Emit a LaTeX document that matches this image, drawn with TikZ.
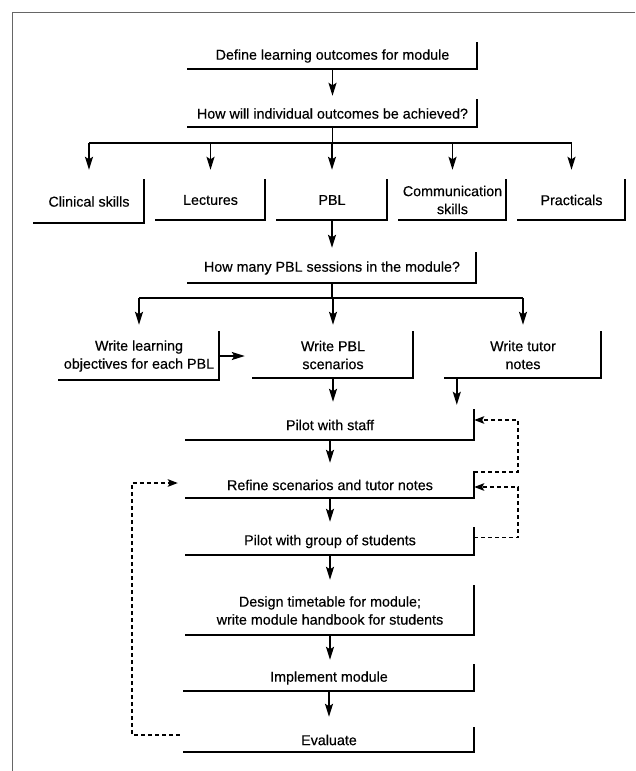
\documentclass[tikz,border=0pt]{standalone}
\usepackage{fontspec}
\setmainfont[FakeBold=0.4]{Liberation Sans}
\usetikzlibrary{arrows.meta}
\begin{document}
\begin{tikzpicture}[x=1pt,y=-1pt,
  box/.style={inner sep=0pt, align=center, font=\fontsize{14.3}{18}\selectfont},
  L/.style={line width=1.6pt, line cap=rect},
  ln/.style={line width=1.6pt},
  arr/.style={line width=1.6pt, -{Stealth[length=13pt,width=8pt,inset=2.5pt]}},
  fb/.style={line width=1.5pt, dash pattern=on 4pt off 3pt, -{Stealth[length=10pt,width=7.5pt,inset=2pt]}},
  frame/.style={line width=0.8pt, black!60}]
\useasboundingbox (0,0) rectangle (635,771);
\draw[frame] (635,12) -- (12,12) -- (12,771);

\node[box, minimum width=289pt, minimum height=26pt] (def) at (332.5,56) {Define learning outcomes for module};
\node[box, minimum width=289pt, minimum height=27pt] (how) at (332.5,113.5) {How will individual outcomes be achieved?};
\node[box, minimum width=110pt, minimum height=43pt] (clin) at (89,201.5) {Clinical skills};
\node[box, minimum width=109pt, minimum height=40pt] (lect) at (210.5,200) {Lectures};
\node[box, minimum width=110pt, minimum height=40pt] (pbl) at (332,200) {PBL};
\node[box, minimum width=107pt, minimum height=40pt] (comm) at (452.5,200) {Communication\\skills};
\node[box, minimum width=107pt, minimum height=40pt] (prac) at (571.5,200) {Practicals};
\node[box, minimum width=288pt, minimum height=30pt] (pbls) at (332,268) {How many PBL sessions in the module?};
\node[box, minimum width=160pt, minimum height=48pt] (obj) at (139,356) {Write learning\\objectives for each PBL};
\node[box, minimum width=160pt, minimum height=46pt] (scen) at (333,355) {Write PBL\\scenarios};
\node[box, minimum width=156pt, minimum height=46pt] (tut) at (523,355) {Write tutor\\notes};
\node[box, minimum width=288pt, minimum height=30pt] (pilot) at (330,425) {Pilot with staff};
\node[box, minimum width=288pt, minimum height=26pt] (refine) at (330,485) {Refine scenarios and tutor notes};
\node[box, minimum width=288pt, minimum height=27pt] (stud) at (330,541.5) {Pilot with group of students};
\node[box, minimum width=288pt, minimum height=49pt] (design) at (330,610.5) {Design timetable for module;\\write module handbook for students};
\node[box, minimum width=290pt, minimum height=26pt] (impl) at (329,678) {Implement module};
\node[box, minimum width=290pt, minimum height=24pt] (eval) at (329,740) {Evaluate};

\foreach \n in {def,how,clin,lect,pbl,comm,prac,pbls,obj,scen,tut,pilot,refine,stud,design,impl,eval}
  \draw[L] (\n.south west) -- (\n.south east) -- (\n.north east);

\coordinate (b1) at (332,143);
\coordinate (b2) at (332,298);

\draw[arr, shorten >=4pt] (def) -- (how);
\draw[ln] (how.south) -- (how.south |- b1);
\draw[ln] (clin.north |- b1) -- (prac.north |- b1);
\foreach \n in {clin,lect,pbl,comm,prac}
  \draw[arr, shorten >=10pt] (\n.north |- b1) -- (\n.north);
\draw[arr, shorten >=5pt] (pbl) -- (pbls);
\draw[ln] (pbls.south) -- (pbls.south |- b2);
\draw[ln] (obj.north |- b2) -- (tut.north |- b2);
\foreach \n in {obj,scen,tut}
  \draw[arr, shorten >=7pt] (\n.north |- b2) -- (\n.north);
\draw[arr, shorten >=8pt] (obj.east) -- (scen.west |- obj.east);
\draw[arr, shorten >=8pt] (scen.south) -- (scen.south |- pilot.north);
\draw[arr, shorten >=5pt] ([xshift=12pt]tut.south west) -- ([xshift=12pt]tut.south west |- pilot.north);
\draw[arr, shorten >=9pt] (pilot.south) -- (pilot.south |- refine.north);
\draw[arr, shorten >=6pt] (refine.south) -- (refine.south |- stud.north);
\draw[arr, shorten >=6pt] (stud.south) -- (stud.south |- design.north);
\draw[arr, shorten >=5pt] (design.south) -- (design.south |- impl.north);
\draw[arr, shorten >=11pt] (impl.south) -- (impl.south |- eval.north);

\draw[fb] (refine.north east) -- ++(44,0) |- ([yshift=5pt]pilot.east);
\draw[fb] ([yshift=4pt]stud.east) -- ++(44,0) |- ([yshift=-2pt]refine.east);
\draw[fb, shorten >=8pt] ([yshift=5pt,xshift=-4pt]eval.west) -- ++(-48,0) |- ([yshift=2pt]refine.west);
\end{tikzpicture}
\end{document}
